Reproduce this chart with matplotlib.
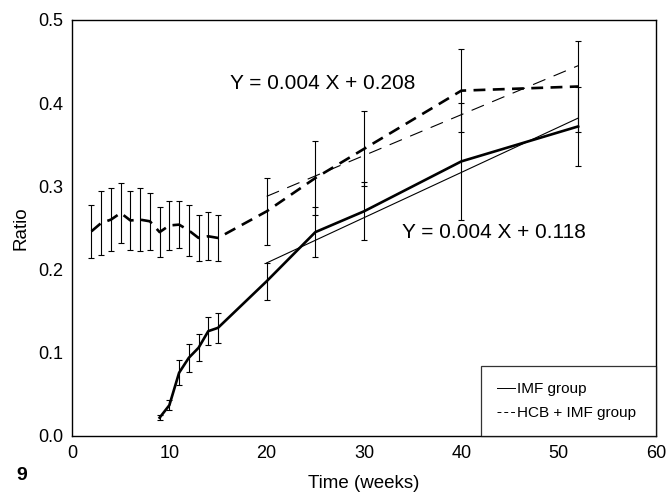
import matplotlib.pyplot as plt

plt.rcParams['font.family'] = ['Liberation Sans', 'DejaVu Sans']

# IMF group (solid)
imf_weeks = [9, 10, 11, 12, 13, 14, 15, 20, 25, 30, 40, 52]
imf_ratio = [0.022, 0.037, 0.076, 0.094, 0.106, 0.126, 0.130, 0.186, 0.245, 0.270, 0.330, 0.372]
imf_err = [0.003, 0.006, 0.015, 0.017, 0.016, 0.017, 0.018, 0.022, 0.030, 0.035, 0.070, 0.047]

# HCB + IMF group (dashed)
hcb_weeks = [2, 3, 4, 5, 6, 7, 8, 9, 10, 11, 12, 13, 14, 15, 20, 25, 30, 40, 52]
hcb_ratio = [0.246, 0.256, 0.260, 0.268, 0.259, 0.260, 0.258, 0.245, 0.253, 0.254, 0.247, 0.238, 0.240, 0.238,
             0.270, 0.310, 0.345, 0.415, 0.420]
hcb_err = [0.032, 0.039, 0.038, 0.036, 0.036, 0.038, 0.034, 0.030, 0.029, 0.028, 0.031, 0.028, 0.029, 0.028,
           0.040, 0.045, 0.045, 0.050, 0.055]

# regression lines as drawn
fit_weeks = [20, 52]
fit_imf = [0.208, 0.382]
fit_hcb = [0.288, 0.445]

fig = plt.figure(figsize=(6.7, 4.98), dpi=100)
ax = fig.add_axes([0.1075, 0.1245, 0.8716, 0.8355])

ax.errorbar(imf_weeks, imf_ratio, yerr=imf_err, color='black', lw=1.9,
            elinewidth=0.8, capsize=2, capthick=0.8)
ax.errorbar(hcb_weeks, hcb_ratio, yerr=hcb_err, color='black', lw=1.9, dashes=(4.5, 2.8),
            elinewidth=0.8, capsize=2, capthick=0.8)

ax.plot(fit_weeks, fit_imf, color='black', lw=0.8)
ax.plot(fit_weeks, fit_hcb, color='black', lw=0.8, dashes=(12, 8))

ax.text(25.8, 0.423, 'Y = 0.004 X + 0.208', fontsize=15, ha='center', va='center')
ax.text(43.4, 0.245, 'Y = 0.004 X + 0.118', fontsize=15, ha='center', va='center')

# legend proxies
ax.plot([], [], color='black', lw=0.7, label='IMF group')
ax.plot([], [], color='black', lw=0.7, dashes=(4, 3), label='HCB + IMF group')
handles, labels = ax.get_legend_handles_labels()
leg = ax.legend(handles[-2:], labels[-2:], loc='lower left',
                bbox_to_anchor=(42 / 60, 0, 18 / 60, 0.09 / 0.5), mode='expand',
                borderaxespad=0, fontsize=11, handlelength=1.2, handletextpad=0.15,
                labelspacing=0.63, borderpad=1.05, fancybox=False, edgecolor='black')
leg.get_frame().set_linewidth(0.9)

ax.set_xlim(0, 60)
ax.set_ylim(0, 0.5)
ax.set_xticks([0, 10, 20, 30, 40, 50, 60])
ax.set_yticks([0.0, 0.1, 0.2, 0.3, 0.4, 0.5])
ax.set_yticklabels(['0.0', '0.1', '0.2', '0.3', '0.4', '0.5'])
ax.tick_params(length=0, labelsize=13, pad=6.5)
for s in ax.spines.values():
    s.set_linewidth(1.0)

ax.set_xlabel('Time (weeks)', fontsize=13.5, labelpad=9)
ax.set_ylabel('Ratio', fontsize=13.5)
ax.yaxis.set_label_coords(-0.072, 0.5)
fig.text(0.025, 0.045, '9', fontsize=14, fontweight='bold', ha='left', va='center')

fig.savefig('out.png', dpi=100)
